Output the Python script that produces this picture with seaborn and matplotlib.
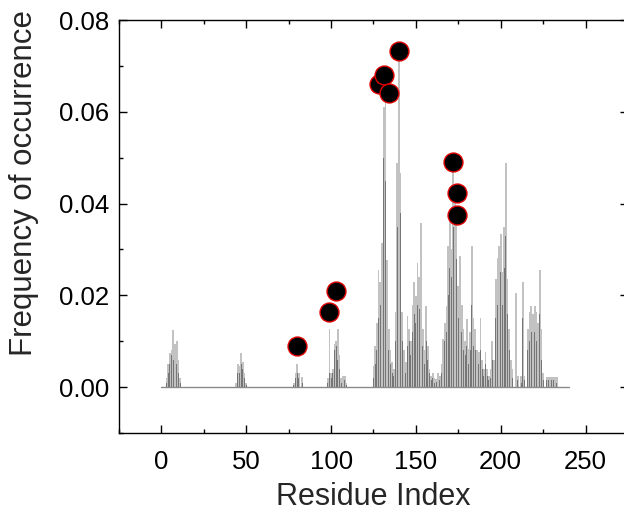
import numpy as np
import pandas as pd
import matplotlib
matplotlib.use("Agg")
import matplotlib.pyplot as plt
from matplotlib.ticker import MultipleLocator
import seaborn as sns

# ---- data (frequency values in thousandths) ----
residues = [3, 4, 5, 6, 7, 8, 9, 10, 11,
            44, 45, 46, 47, 48, 49, 50,
            78, 79, 80, 81, 83,
            98, 99, 100, 101, 102, 103, 104, 105, 106, 107, 108, 109,
            125, 126, 127, 128, 129, 130, 131, 132, 133, 134, 135, 136, 137, 138, 139,
            140, 141, 142, 143, 144, 145, 146, 147, 148, 149, 150, 151, 152, 153, 154,
            155, 156, 157, 158, 159, 160, 161, 162, 163, 164, 165, 166, 167, 168, 169,
            170, 171, 172, 173, 174, 175, 176, 177, 178, 179, 180, 181, 182, 183, 184,
            185, 186, 187, 188, 189, 190, 191, 192, 193, 194, 195, 196, 197, 198, 199,
            200, 201, 202, 203, 204, 205, 206, 207, 209, 210, 212, 213, 214,
            216, 217, 218, 219, 220, 221, 222, 223, 224, 225, 227, 228, 229, 230, 231, 232, 233]

freq_total_permille = [2, 5, 7.5, 8, 12.5, 9.5, 10, 6, 2,
                       1, 5, 4.5, 7.5, 5.5, 3, 1,
                       1, 3, 5, 3, 2.2,
                       2, 12.6, 3, 4, 9.5, 10, 12.6, 7, 2, 2.5, 2.5, 1,
                       4.7, 9, 14, 25.6, 22.8, 31.5, 61, 63.3, 27.8, 12.7, 8, 5.4, 4, 16.3, 48.8,
                       72.8, 46.6, 16.3, 8, 5.4, 15.6, 12.7, 10, 18, 22.8, 19.9, 27.1, 24, 35.7, 12.7,
                       8, 17.7, 9, 4, 2.5, 3, 2, 1.8, 3, 2.5, 5, 10.5, 14, 17.7, 30.8,
                       37.2, 30, 49, 42, 37.6, 22, 28.5, 18, 12.7, 10, 14.8, 8.3, 12, 30.8, 15,
                       12.7, 8, 7.6, 15.1, 6, 4, 7.6, 4, 2.5, 4, 10, 6, 23.5, 28.2, 30.8,
                       33.3, 25, 35, 48.8, 23.5, 12.7, 6, 4, 20.6, 2.5, 2.5, 22.8, 2.5,
                       12.7, 16.3, 17.7, 16, 17.7, 16.3, 14, 25.5, 12.7, 3, 2.2, 2.2, 2.2, 2.2, 2.2, 2.2, 2.2]

freq_core_permille = [1, 3, 5, 7, 6, 8, 5, 3, 1,
                      0.5, 3, 3, 5, 4, 2, 0.5,
                      0.5, 2, 3, 2, 1,
                      1, 3, 2, 3, 8, 9, 6, 4, 1, 2, 1.5, 0.5,
                      2, 5, 8, 15, 18, 22, 50, 45, 20, 8, 5, 3, 2.5, 10, 35,
                      54, 38, 10, 5, 3, 9, 10, 7, 12, 16, 14, 18, 17, 25, 9,
                      5, 10, 6, 3, 1.5, 2, 1, 1.2, 2, 1.5, 3, 7, 10, 12, 20,
                      26, 24, 35, 32, 28, 15, 18, 12, 8, 7, 9, 5, 8, 18, 9,
                      8, 5, 5, 8, 4, 2.5, 5, 2.5, 1.5, 2, 6, 4, 15, 18, 22,
                      25, 18, 26, 33, 16, 8, 3, 2, 3, 1.5, 1, 15, 1.5,
                      8, 10, 12, 11, 12, 10, 9, 16, 6, 1.5, 1.5, 1.5, 1.5, 1.5, 1.5, 1.5, 1]

hot_residues = [80, 99, 103, 128, 131, 134, 140, 172, 174, 174.5]
hot_freq = [0.0089, 0.0163, 0.0209, 0.0660, 0.0680, 0.0641, 0.0733, 0.0491, 0.0422, 0.0376]

baseline_x = [0, 240]
baseline_y = [0, 0]

xticks = [0, 50, 100, 150, 200, 250]
yticks = [0.00, 0.02, 0.04, 0.06, 0.08]

# ---- figure ----
sns.set_theme(style="ticks")
plt.rcParams['font.family'] = ['Liberation Sans', 'DejaVu Sans']

fig = plt.figure(figsize=(6.24, 5.12), dpi=100)
ax = fig.add_axes([0.1907, 0.1543, 0.8157, 0.8066])

df = pd.DataFrame({
    "residue": residues,
    "total": np.array(freq_total_permille) / 1000.0,
    "core": np.array(freq_core_permille) / 1000.0,
})

sns.lineplot(x=baseline_x, y=baseline_y, ax=ax, color="#8a8a8a", lw=1.0)
sns.barplot(data=df, x="residue", y="total", native_scale=True, width=1.0,
            color="#c2c2c2", saturation=1, errorbar=None, linewidth=0, ax=ax)
sns.barplot(data=df, x="residue", y="core", native_scale=True, width=0.5,
            color="#767676", saturation=1, errorbar=None, linewidth=0, ax=ax)
sns.scatterplot(x=hot_residues, y=hot_freq, ax=ax, s=185, color="black",
                edgecolor="#e00000", linewidth=1.0, zorder=5)

ax.set_xlim(-25, 275)
ax.set_ylim(-0.01, 0.08)
ax.set_xticks(xticks)
ax.set_yticks(yticks)
ax.set_yticklabels([f"{v:.2f}" for v in yticks])
ax.xaxis.set_minor_locator(MultipleLocator(25))
ax.yaxis.set_minor_locator(MultipleLocator(0.01))
ax.tick_params(which="both", direction="in", top=True, right=True,
               colors="black", width=1.0)
ax.tick_params(which="major", length=6, labelsize=18.5)
ax.tick_params(axis="x", which="major", pad=12)
ax.tick_params(axis="y", which="major", pad=7)
ax.tick_params(which="minor", length=3)
for sp in ax.spines.values():
    sp.set_color("black")
    sp.set_linewidth(1.0)

ax.set_xlabel("Residue Index", fontsize=22, labelpad=6)
ax.set_ylabel("Frequency of occurrence", fontsize=22.5)
ax.yaxis.set_label_coords(-0.158, 0.605)

fig.savefig("out.png", dpi=100)
